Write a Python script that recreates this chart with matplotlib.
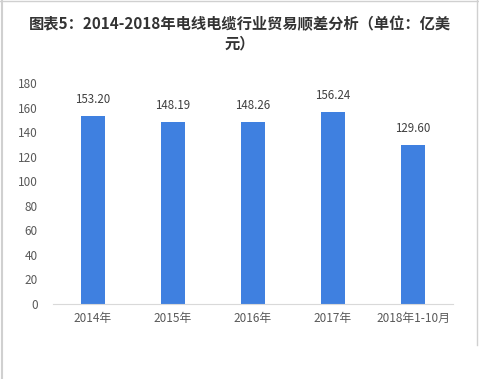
import matplotlib
matplotlib.use("Agg")
import matplotlib.pyplot as plt
from matplotlib.lines import Line2D

plt.rcParams['font.family'] = ['Noto Sans CJK SC', 'DejaVu Sans']

categories = ["2014年", "2015年", "2016年", "2017年", "2018年1-10月"]
values = [153.20, 148.19, 148.26, 156.24, 129.60]
labels = ["153.20", "148.19", "148.26", "156.24", "129.60"]
yticks = [0, 20, 40, 60, 80, 100, 120, 140, 160, 180]
title = "图表5：2014-2018年电线电缆行业贸易顺差分析（单位：亿美\n元）"

fig = plt.figure(figsize=(4.79, 3.79), dpi=100)
ax = fig.add_axes([53/479, 1 - 304/379, 400/479, 221/379])

x = range(len(categories))
ax.bar(x, values, width=0.31, color="#3f80e0", zorder=2)
for xi, v, lab in zip(x, values, labels):
    ax.annotate(lab, (xi, v), xytext=(0, 7), textcoords="offset points",
                ha="center", va="bottom", fontsize=8.3, color="#404040")

ax.set_xlim(-0.5, len(categories) - 0.5)
ax.set_ylim(0, 180)
ax.set_yticks(yticks)
ax.set_xticks(list(x))
ax.set_xticklabels(categories)
ax.tick_params(axis="both", length=0, labelsize=8.5, colors="#595959")
ax.tick_params(axis="y", pad=11)
ax.tick_params(axis="x", pad=6)
for s in ["top", "right", "left"]:
    ax.spines[s].set_visible(False)
ax.spines["bottom"].set_color("#d9d9d9")

fig.text(0.5, 1 - 34/379, title, ha="center", va="center", fontsize=11,
         fontweight="bold", color="#333333", linespacing=1.3)

# frame lines of the original image
fig.add_artist(Line2D([1.5/479, 1.5/479], [0, 1], transform=fig.transFigure, color="#d0d0d0", lw=1.5))
fig.add_artist(Line2D([0, 1], [1 - 0.5/379, 1 - 0.5/379], transform=fig.transFigure, color="#d0d0d0", lw=1))
fig.add_artist(Line2D([476.5/479, 476.5/479], [1 - 345/379, 1], transform=fig.transFigure, color="#d0d0d0", lw=1))

fig.savefig("out.png", dpi=100)
